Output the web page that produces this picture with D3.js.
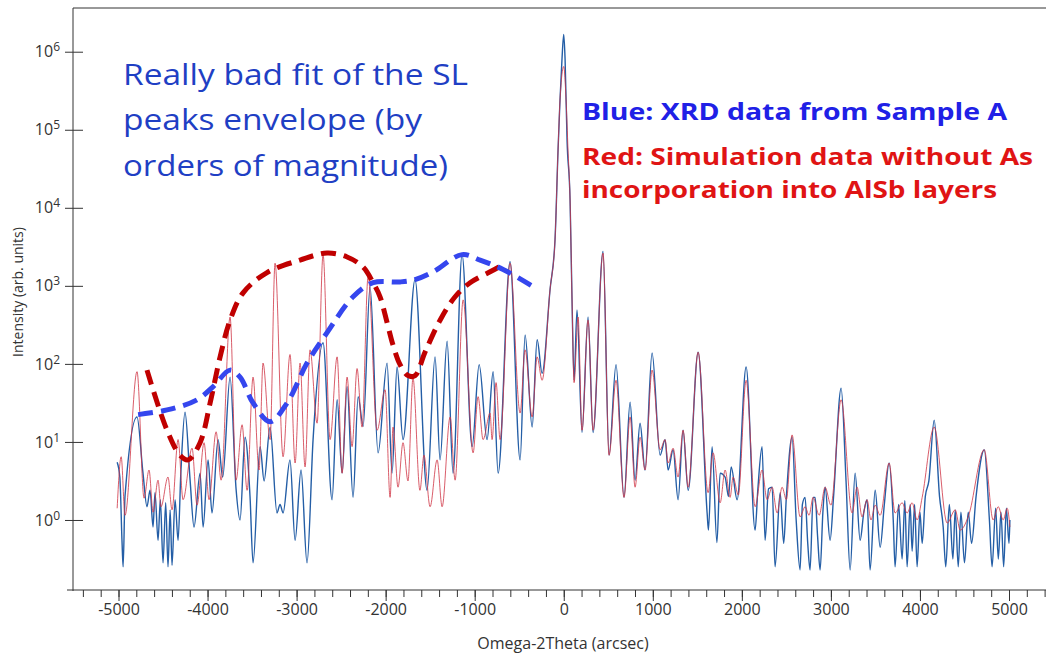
<!DOCTYPE html>
<html>
<head>
<meta charset="utf-8">
<script src="https://cdn.jsdelivr.net/npm/d3@7"></script>
<style>
  html, body { margin: 0; padding: 0; background: #fff; }
  svg { display: block; }
</style>
</head>
<body>
<svg id="chart" width="1046" height="655"></svg>
<script>
// Omega-2Theta scan: [angle in arcsec, log10 of intensity (arb. units)]
const xrdScan = [
  [-5015,0.74],[-4985,0.55],[-4960,-0.29],[-4948,-0.60],[-4927,0.30],[-4792,1.32],[-4725,0.60],[-4680,0.17],
  [-4646,0.38],[-4612,-0.09],[-4590,0.35],[-4556,-0.26],[-4530,0.26],[-4500,-0.55],[-4470,0.22],[-4444,-0.60],
  [-4420,0.13],[-4399,-0.58],[-4365,0.26],[-4331,-0.26],[-4300,0.60],[-4253,1.38],[-4196,0.51],[-4152,-0.09],
  [-4084,0.60],[-4050,-0.09],[-3994,0.77],[-3950,0.09],[-3882,1.03],[-3830,0.55],[-3747,1.83],[-3680,0.40],
  [-3635,0.00],[-3579,1.06],[-3523,0.30],[-3489,-0.55],[-3410,0.94],[-3365,0.50],[-3298,1.19],[-3220,0.09],
  [-3186,0.20],[-3152,0.09],[-3074,0.77],[-3017,-0.26],[-2950,0.64],[-2883,-0.55],[-2815,1.03],[-2703,2.27],
  [-2602,0.26],[-2545,1.54],[-2489,0.60],[-2433,1.71],[-2366,0.29],[-2309,1.58],[-2253,1.20],[-2175,2.99],
  [-2085,0.86],[-1984,2.01],[-1928,0.60],[-1872,1.96],[-1805,1.03],[-1670,3.08],[-1535,0.38],[-1445,2.09],
  [-1389,0.77],[-1310,2.29],[-1243,0.60],[-1142,3.40],[-1029,0.94],[-950,1.99],[-861,1.03],[-793,1.90],
  [-737,0.60],[-603,3.31],[-490,0.77],[-434,2.37],[-355,1.19],[-299,2.31],[-243,1.88],[-154,2.95],
  [-98,3.59],[-64,4.74],[-42,5.38],[-20,5.90],[0,6.22],[15,5.90],[37,4.87],[71,4.10],
  [93,2.82],[116,1.79],[149,2.69],[205,1.12],[273,2.60],[329,1.12],[441,3.44],[509,0.83],
  [587,1.99],[677,0.29],[745,1.51],[801,0.51],[857,1.24],[913,0.64],[992,2.14],[1082,0.83],
  [1138,1.03],[1172,0.64],[1228,0.90],[1284,0.26],[1340,1.15],[1397,0.38],[1509,2.15],[1610,0.09],
  [1625,-0.13],[1666,0.94],[1720,-0.29],[1756,0.60],[1812,0.55],[1850,0.30],[1880,0.68],[1947,0.26],
  [2048,1.96],[2149,-0.13],[2180,0.40],[2227,0.94],[2261,-0.26],[2300,0.40],[2340,0.42],[2373,-0.60],
  [2430,0.35],[2470,-0.30],[2500,0.30],[2564,1.06],[2610,0.00],[2654,-0.64],[2680,0.20],[2710,0.29],
  [2740,-0.30],[2766,-0.64],[2800,0.29],[2823,0.29],[2850,-0.20],[2879,-0.64],[2910,0.10],[2935,0.42],
  [2991,-0.26],[3030,0.30],[3115,1.69],[3170,0.50],[3216,-0.64],[3272,0.60],[3328,-0.26],[3370,0.10],
  [3406,0.26],[3440,-0.64],[3497,0.38],[3553,-0.35],[3600,0.20],[3654,0.73],[3700,0.00],[3721,-0.60],
  [3760,0.20],[3800,-0.50],[3830,0.25],[3856,-0.60],[3890,0.20],[3912,-0.40],[3940,0.20],[3968,-0.60],
  [4000,0.10],[4025,-0.30],[4060,0.30],[4100,0.50],[4160,1.28],[4220,0.30],[4261,-0.09],[4290,-0.60],
  [4330,0.20],[4370,-0.50],[4396,0.13],[4430,-0.60],[4460,0.10],[4500,-0.55],[4542,0.10],[4580,-0.30],
  [4630,0.30],[4722,0.90],[4780,0.00],[4810,-0.60],[4850,0.15],[4880,-0.50],[4910,0.10],[4940,-0.60],
  [4970,0.15],[5000,-0.30],[5010,0.00]
];

// Simulated scan without As in the AlSb layers: [angle, log10 intensity]
const simScan = [
  [-5015,0.15],[-4970,0.81],[-4927,0.06],[-4792,1.90],[-4713,0.28],[-4657,0.64],[-4612,0.10],[-4556,0.51],
  [-4523,0.17],[-4444,0.55],[-4399,0.13],[-4331,1.03],[-4275,0.26],[-4174,0.92],[-4118,0.19],[-4039,0.99],
  [-3983,0.26],[-3904,1.13],[-3848,0.51],[-3747,2.60],[-3680,0.51],[-3612,1.22],[-3556,0.38],[-3489,1.83],
  [-3422,0.64],[-3377,2.01],[-3298,1.03],[-3242,3.29],[-3152,0.81],[-3074,2.12],[-3017,0.73],[-2961,2.01],
  [-2905,0.68],[-2849,2.18],[-2770,1.24],[-2703,3.40],[-2624,1.03],[-2545,2.09],[-2489,0.60],[-2433,1.83],
  [-2377,0.94],[-2321,1.94],[-2265,1.19],[-2197,3.12],[-2096,1.15],[-2006,1.67],[-1950,0.29],[-1917,1.19],
  [-1861,0.42],[-1805,0.99],[-1749,0.50],[-1693,1.82],[-1615,0.38],[-1570,0.83],[-1501,0.17],[-1422,0.77],
  [-1366,0.17],[-1276,1.32],[-1220,0.51],[-1130,2.82],[-1018,0.86],[-962,1.58],[-906,1.03],[-827,1.37],
  [-805,1.03],[-760,1.76],[-715,1.03],[-603,3.29],[-490,1.37],[-434,2.18],[-355,1.32],[-299,2.09],
  [-243,1.79],[-154,2.95],[-98,3.59],[-64,4.74],[-42,5.38],[0,5.81],[26,5.38],[48,4.74],
  [71,4.10],[93,2.82],[116,1.76],[161,2.60],[205,1.15],[273,2.56],[329,1.15],[441,3.42],
  [509,0.83],[587,1.79],[677,0.29],[745,1.32],[801,0.42],[857,1.06],[913,0.64],[992,1.92],
  [1082,0.90],[1138,1.03],[1172,0.73],[1228,0.92],[1284,0.55],[1340,1.15],[1397,0.42],[1509,2.15],
  [1621,0.35],[1677,0.86],[1756,0.22],[1812,0.64],[1868,0.29],[1902,0.55],[1960,0.32],[2048,1.79],
  [2149,0.17],[2227,0.64],[2283,0.26],[2340,0.42],[2396,0.09],[2452,0.42],[2500,0.26],[2564,1.09],
  [2654,0.04],[2710,0.17],[2755,0.06],[2800,0.29],[2868,0.06],[2935,0.42],[3000,0.19],[3115,1.54],
  [3238,0.09],[3294,0.42],[3350,0.04],[3406,0.26],[3450,0.00],[3497,0.19],[3553,0.06],[3654,0.73],
  [3721,0.09],[3800,0.22],[3856,0.09],[3912,0.22],[3968,0.00],[4025,0.29],[4160,1.19],[4306,-0.04],
  [4396,0.13],[4452,-0.13],[4542,0.04],[4722,0.90],[4822,0.00],[4879,0.17],[4935,0.00],[4980,0.15],
  [5010,-0.09]
];

// Hand-drawn envelopes of the superlattice peaks: [angle, log10 intensity]
const simEnvelope = [
  [-4680,1.92],[-4455,1.15],[-4309,0.83],[-4219,0.77],[-4084,0.99],[-3971,1.50],[-3859,2.09],[-3747,2.56],
  [-3601,2.91],[-3332,3.17],[-2961,3.33],[-2658,3.42],[-2433,3.37],[-2253,3.24],[-2141,3.04],[-2063,2.86],
  [-1984,2.53],[-1917,2.24],[-1838,1.99],[-1749,1.85],[-1670,1.85],[-1558,2.15],[-1389,2.56],[-1220,2.86],
  [-1052,3.04],[-827,3.18],[-681,3.27]
];
const xrdEnvelope = [
  [-4780,1.35],[-4455,1.41],[-4118,1.54],[-3937,1.71],[-3747,1.92],[-3635,1.83],[-3489,1.50],[-3298,1.26],
  [-3107,1.50],[-2883,2.01],[-2658,2.40],[-2366,2.86],[-2141,3.04],[-1838,3.05],[-1670,3.08],[-1467,3.18],
  [-1142,3.40],[-939,3.33],[-681,3.21],[-344,2.99]
];

const xTicks = [-5000, -4000, -3000, -2000, -1000, 0, 1000, 2000, 3000, 4000, 5000];
const xMinorTicks = d3.range(-5400, 5401, 200);
const yDecades = [0, 1, 2, 3, 4, 5, 6];

const annotationLines = ["Really bad fit of the SL", "peaks envelope (by", "orders of magnitude)"];
const legendBlue = "Blue: XRD data from Sample A";
const legendRed = ["Red: Simulation data without As", "incorporation into AlSb layers"];

const svg = d3.select("#chart");
const frame = { left: 73, right: 1046, top: 8, bottom: 591 };

const x = d3.scaleLinear().domain([-5000, 5000]).range([118.5, 1009]);
const y = d3.scaleLog().domain([Math.pow(10, -0.91), Math.pow(10, 6.56)]).range([frame.bottom, frame.top]);

const toPoints = arr => arr.map(([a, l]) => ({ angle: a, intensity: Math.pow(10, l) }));

svg.append("defs").append("clipPath").attr("id", "plot-area")
  .append("rect")
  .attr("x", frame.left).attr("y", frame.top)
  .attr("width", frame.right - frame.left).attr("height", frame.bottom - frame.top);

// traces
const scanLine = d3.line()
  .x(d => x(d.angle)).y(d => y(d.intensity))
  .curve(d3.curveMonotoneX);
const envLine = d3.line()
  .x(d => x(d.angle)).y(d => y(d.intensity))
  .curve(d3.curveCatmullRom.alpha(0.5));

const plot = svg.append("g").attr("clip-path", "url(#plot-area)");
plot.append("path").datum(toPoints(xrdScan))
  .attr("d", scanLine).attr("fill", "none")
  .attr("stroke", "#245ea6").attr("stroke-width", 1.4).attr("stroke-linejoin", "round");
plot.append("path").datum(toPoints(simScan))
  .attr("d", scanLine).attr("fill", "none")
  .attr("stroke", "#cf3545").attr("stroke-width", 1).attr("stroke-opacity", 0.8).attr("stroke-linejoin", "round");
plot.append("path").datum(toPoints(simEnvelope))
  .attr("d", envLine).attr("fill", "none")
  .attr("stroke", "#c00000").attr("stroke-width", 5).attr("stroke-dasharray", "15,8");
plot.append("path").datum(toPoints(xrdEnvelope))
  .attr("d", envLine).attr("fill", "none")
  .attr("stroke", "#3546ee").attr("stroke-width", 5).attr("stroke-dasharray", "15,8");

// frame
const axisColor = "#333";
svg.append("line").attr("x1", frame.left).attr("x2", frame.left).attr("y1", frame.top).attr("y2", frame.bottom)
  .attr("stroke", axisColor);
svg.append("line").attr("x1", frame.left).attr("x2", frame.right).attr("y1", frame.top).attr("y2", frame.top)
  .attr("stroke", axisColor);
svg.append("line").attr("x1", frame.left - 6).attr("x2", frame.right).attr("y1", frame.bottom - 1).attr("y2", frame.bottom - 1)
  .attr("stroke", axisColor);

// x axis
const xMinorG = svg.append("g").attr("transform", `translate(0,${frame.bottom - 1})`)
  .call(d3.axisBottom(x).tickValues(xMinorTicks).tickSize(7).tickFormat(""));
xMinorG.select(".domain").remove();
xMinorG.selectAll("line").attr("stroke", axisColor);

const xMajorG = svg.append("g").attr("transform", `translate(0,${frame.bottom - 1})`)
  .call(d3.axisBottom(x).tickValues(xTicks).tickSize(11).tickPadding(3).tickFormat(d => String(d)));
xMajorG.select(".domain").remove();
xMajorG.selectAll("line").attr("stroke", axisColor);
xMajorG.attr("font-family", "'Open Sans', sans-serif").attr("font-size", 16);
xMajorG.selectAll("text").attr("fill", "#333");

// y axis (ticks cross the axis line)
const yOutG = svg.append("g").attr("transform", `translate(${frame.left},0)`)
  .call(d3.axisLeft(y).tickValues(yDecades.map(d => Math.pow(10, d))).tickSize(8).tickPadding(5).tickFormat(""));
yOutG.select(".domain").remove();
yOutG.selectAll("line").attr("stroke", axisColor);
yOutG.attr("font-family", "'Open Sans', sans-serif").attr("font-size", 16);
yOutG.selectAll(".tick text").each(function(d) {
  const t = d3.select(this).attr("fill", "#333");
  t.append("tspan").text("10");
  t.append("tspan").attr("dy", "-0.5em").attr("font-size", 12).text(Math.round(Math.log10(d)));
});
const yInG = svg.append("g").attr("transform", `translate(${frame.left},0)`)
  .call(d3.axisRight(y).tickValues(yDecades.map(d => Math.pow(10, d))).tickSize(10).tickFormat(""));
yInG.select(".domain").remove();
yInG.selectAll("line").attr("stroke", axisColor);

// axis titles
svg.append("text")
  .attr("transform", "translate(23,292) rotate(-90)")
  .attr("text-anchor", "middle")
  .attr("font-family", "'Open Sans', sans-serif").attr("font-size", 14).attr("fill", "#333")
  .text("Intensity (arb. units)");
svg.append("text")
  .attr("x", 563).attr("y", 649)
  .attr("text-anchor", "middle")
  .attr("font-family", "'Open Sans', sans-serif").attr("font-size", 16).attr("fill", "#333")
  .text("Omega-2Theta (arcsec)");

// annotations
const annoWidths = [345, 299, 325];
const annoBase = [85, 130, 176];
annotationLines.forEach((s, i) => {
  svg.append("text")
    .attr("x", 123).attr("y", annoBase[i])
    .attr("font-family", "'Open Sans', sans-serif").attr("font-size", 30)
    .attr("fill", "#1f3fc4")
    .attr("textLength", annoWidths[i]).attr("lengthAdjust", "spacingAndGlyphs")
    .text(s);
});

svg.append("text")
  .attr("x", 582).attr("y", 120)
  .attr("font-family", "'Open Sans', sans-serif").attr("font-weight", 700).attr("font-size", 24)
  .attr("fill", "#2020e6")
  .attr("textLength", 425).attr("lengthAdjust", "spacingAndGlyphs")
  .text(legendBlue);
const redWidths = [451, 415];
const redBase = [165, 198];
legendRed.forEach((s, i) => {
  svg.append("text")
    .attr("x", 582).attr("y", redBase[i])
    .attr("font-family", "'Open Sans', sans-serif").attr("font-weight", 700).attr("font-size", 24)
    .attr("fill", "#e01414")
    .attr("textLength", redWidths[i]).attr("lengthAdjust", "spacingAndGlyphs")
    .text(s);
});
</script>
</body>
</html>
